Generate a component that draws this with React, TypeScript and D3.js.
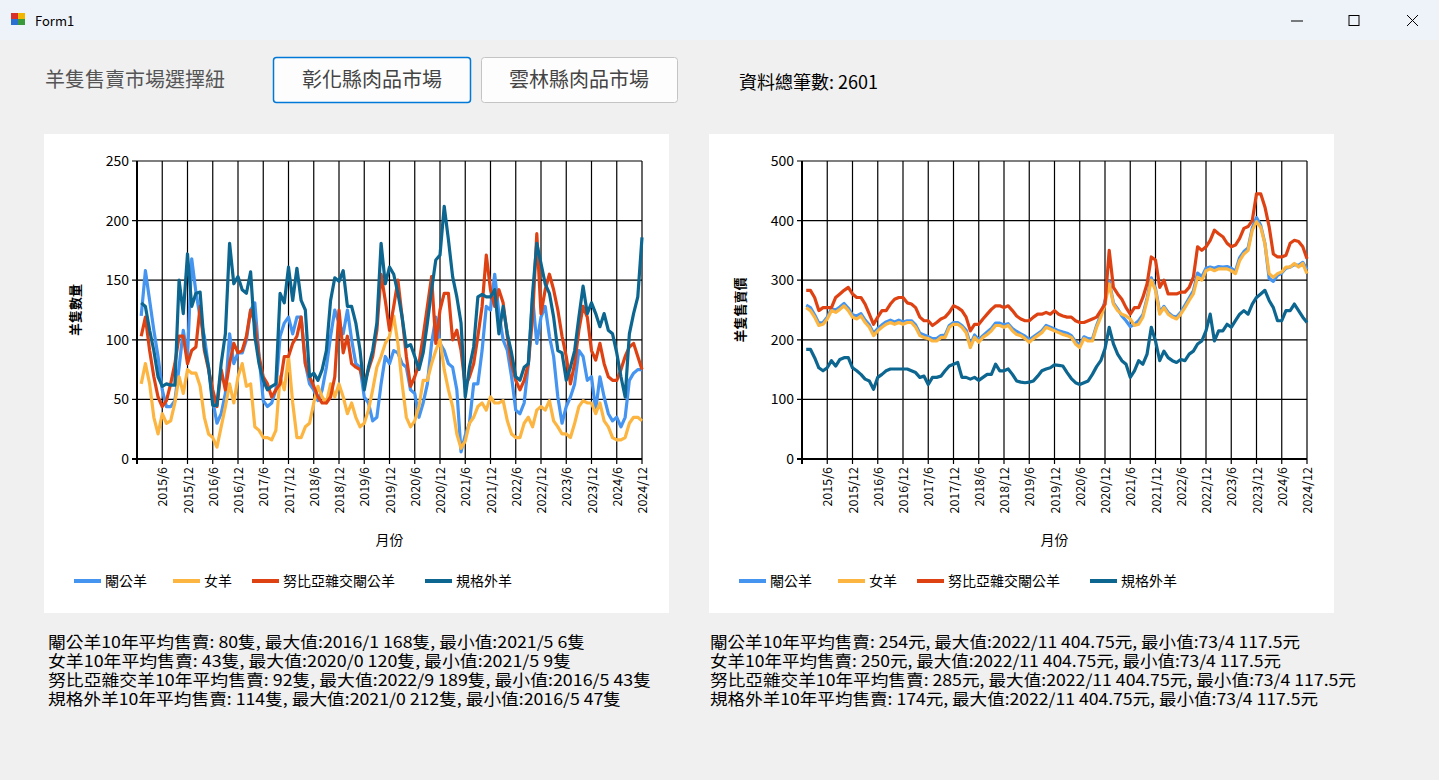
import { useMemo } from "react";
import * as d3 from "d3";

// 2015/1 .. 2024/12, one value per month
const tickLabels = [
  "2015/6", "2015/12", "2016/6", "2016/12", "2017/6", "2017/12", "2018/6", "2018/12", "2019/6", "2019/12",
  "2020/6", "2020/12", "2021/6", "2021/12", "2022/6", "2022/12", "2023/6", "2023/12", "2024/6", "2024/12",
];

const seriesNames = ["閹公羊", "女羊", "努比亞雜交閹公羊", "規格外羊"];
const seriesColors = ["#4494F0", "#FDB541", "#DF4212", "#0C6690"];

const countCastrated = [
  120, 158, 133, 108, 86, 58, 44, 44, 49, 77, 108, 86, 168, 140, 119, 103, 77, 49, 30, 38,
  55, 105, 80, 89, 89, 100, 125, 131, 86, 49, 44, 47, 58, 103, 114, 119, 105, 119, 119, 80,
  63, 58, 49, 58, 77, 103, 125, 114, 105, 125, 100, 80, 77, 52, 47, 32, 35, 63, 86, 80,
  91, 89, 80, 77, 58, 55, 35, 47, 63, 97, 119, 97, 91, 80, 77, 58, 6, 20, 30, 63,
  63, 91, 128, 125, 155, 122, 100, 91, 69, 41, 38, 47, 80, 136, 97, 119, 128, 103, 86, 52,
  30, 44, 52, 63, 91, 86, 66, 69, 41, 69, 52, 38, 32, 35, 27, 35, 66, 72, 75, 75,
];
const countEwe = [
  63, 80, 63, 35, 21, 38, 30, 32, 47, 69, 55, 75, 72, 72, 61, 35, 21, 18, 10, 27,
  44, 63, 47, 69, 80, 61, 63, 27, 24, 18, 18, 16, 24, 69, 58, 86, 47, 18, 18, 27,
  30, 47, 61, 52, 47, 63, 52, 63, 52, 38, 47, 35, 27, 30, 41, 58, 77, 86, 97, 103,
  120, 97, 63, 35, 27, 32, 44, 66, 66, 80, 91, 100, 75, 58, 44, 21, 9, 15, 30, 35,
  44, 47, 41, 52, 47, 47, 49, 32, 21, 18, 18, 30, 35, 27, 41, 44, 41, 49, 32, 27,
  21, 21, 18, 30, 44, 49, 47, 47, 38, 47, 32, 27, 18, 16, 16, 18, 30, 35, 35, 32,
];
const countNubian = [
  103, 119, 91, 69, 52, 44, 49, 63, 80, 103, 103, 80, 91, 94, 128, 91, 75, 58, 44, 75,
  58, 80, 97, 89, 91, 103, 125, 114, 86, 69, 63, 52, 58, 63, 86, 86, 97, 103, 119, 80,
  69, 61, 52, 47, 47, 52, 69, 125, 89, 103, 80, 77, 75, 63, 75, 86, 108, 155, 133, 108,
  128, 150, 119, 86, 61, 69, 80, 103, 128, 153, 97, 125, 139, 139, 100, 108, 91, 61, 69, 80,
  103, 128, 171, 142, 128, 142, 131, 103, 80, 66, 58, 66, 80, 119, 189, 122, 142, 155, 142, 125,
  103, 86, 63, 80, 108, 128, 119, 91, 83, 97, 80, 69, 66, 66, 75, 86, 94, 97, 86, 75,
];
const countOffSpec = [
  131, 128, 108, 91, 69, 61, 63, 62, 62, 150, 122, 172, 128, 139, 140, 94, 77, 45, 45, 80,
  105, 181, 147, 153, 142, 139, 157, 103, 80, 66, 58, 61, 63, 139, 131, 161, 133, 160, 133, 125,
  69, 72, 66, 75, 91, 133, 152, 149, 158, 128, 128, 114, 91, 58, 77, 91, 114, 181, 147, 161,
  155, 139, 119, 94, 96, 86, 75, 89, 114, 142, 167, 171, 212, 184, 153, 136, 114, 52, 77, 94,
  136, 138, 136, 136, 142, 105, 128, 105, 89, 69, 66, 77, 80, 139, 181, 164, 147, 139, 119, 91,
  89, 66, 77, 91, 119, 145, 122, 131, 122, 111, 122, 108, 105, 89, 69, 52, 105, 122, 136, 186,
];

const priceCastrated = [
  258, 254, 242, 228, 229, 238, 252, 250, 255, 261, 253, 242, 240, 244, 233, 225, 211, 219, 225, 230,
  233, 230, 233, 230, 232, 232, 225, 211, 208, 205, 202, 202, 207, 208, 224, 229, 229, 224, 216, 192,
  208, 200, 207, 213, 219, 228, 228, 225, 227, 219, 214, 210, 206, 200, 205, 210, 215, 224, 221, 218,
  215, 213, 211, 207, 197, 191, 205, 202, 201, 224, 242, 265, 298, 262, 252, 240, 232, 222, 226, 232,
  242, 270, 304, 286, 246, 256, 246, 240, 238, 246, 258, 270, 282, 312, 306, 320, 322, 320, 323, 322,
  323, 320, 315, 338, 348, 354, 388, 405, 392, 362, 303, 298, 308, 312, 320, 322, 326, 325, 330, 318,
];
const priceEwe = [
  254, 249, 238, 224, 226, 235, 249, 246, 251, 257, 249, 238, 235, 240, 229, 221, 207, 215, 221, 226,
  229, 226, 229, 226, 229, 229, 221, 207, 204, 202, 198, 198, 204, 204, 221, 226, 226, 221, 212, 187,
  204, 196, 204, 209, 215, 224, 224, 221, 224, 215, 209, 207, 202, 196, 202, 207, 212, 221, 218, 215,
  212, 209, 207, 204, 193, 187, 202, 198, 198, 221, 238, 260, 294, 260, 249, 243, 240, 235, 224, 226,
  238, 266, 300, 283, 243, 254, 243, 238, 235, 243, 254, 266, 277, 305, 300, 316, 319, 316, 319, 319,
  319, 316, 311, 333, 344, 350, 384, 398, 389, 361, 311, 305, 311, 314, 322, 322, 328, 322, 328, 311,
];
const priceNubian = [
  283, 283, 271, 249, 254, 254, 254, 271, 277, 283, 288, 277, 271, 271, 260, 243, 226, 238, 249, 249,
  260, 268, 271, 271, 262, 260, 254, 238, 232, 232, 224, 229, 235, 238, 246, 257, 254, 249, 238, 215,
  226, 226, 235, 243, 251, 257, 257, 254, 257, 249, 240, 235, 232, 232, 238, 243, 243, 246, 243, 249,
  243, 240, 238, 238, 232, 229, 229, 232, 235, 238, 249, 260, 350, 288, 277, 268, 254, 243, 254, 254,
  271, 294, 339, 334, 288, 300, 277, 277, 277, 280, 280, 288, 305, 356, 350, 356, 367, 384, 378, 373,
  362, 356, 359, 370, 387, 390, 400, 445, 445, 423, 390, 344, 339, 339, 342, 362, 367, 365, 356, 336,
];
const priceOffSpec = [
  184, 184, 170, 153, 148, 153, 165, 156, 167, 170, 170, 153, 148, 142, 134, 131, 117, 137, 142, 148,
  151, 151, 151, 151, 151, 148, 145, 137, 139, 125, 137, 137, 139, 148, 156, 159, 162, 137, 137, 134,
  137, 132, 137, 142, 142, 159, 148, 148, 151, 142, 131, 129, 128, 129, 131, 139, 148, 151, 153, 158,
  157, 156, 145, 135, 128, 125, 128, 131, 142, 155, 165, 185, 221, 193, 176, 165, 159, 137, 148, 165,
  159, 176, 221, 198, 165, 181, 170, 165, 162, 167, 165, 176, 181, 193, 198, 215, 243, 198, 215, 215,
  226, 221, 232, 243, 249, 243, 260, 271, 277, 283, 266, 254, 232, 232, 249, 249, 260, 249, 238, 229,
];

const countStats = [
  "閹公羊10年平均售賣: 80隻, 最大值:2016/1 168隻, 最小值:2021/5 6隻",
  "女羊10年平均售賣: 43隻, 最大值:2020/0 120隻, 最小值:2021/5  9隻",
  "努比亞雜交羊10年平均售賣: 92隻, 最大值:2022/9 189隻, 最小值:2016/5 43隻",
  "規格外羊10年平均售賣: 114隻, 最大值:2021/0 212隻, 最小值:2016/5 47隻",
];
const countStatsWidth = [537, 523, 603, 573];
const priceStats = [
  "閹公羊10年平均售賣: 254元, 最大值:2022/11 404.75元, 最小值:73/4 117.5元",
  "女羊10年平均售賣: 250元, 最大值:2022/11 404.75元, 最小值:73/4 117.5元",
  "努比亞雜交羊10年平均售賣: 285元, 最大值:2022/11 404.75元, 最小值:73/4 117.5元",
  "規格外羊10年平均售賣: 174元, 最大值:2022/11 404.75元, 最小值:73/4 117.5元",
];
const priceStatsWidth = [590, 571, 646, 608];

const SANS = "'Noto Sans CJK TC', 'Microsoft JhengHei', sans-serif";
const SERIF = "'Noto Sans CJK TC', serif";

function Chart({ left, series, yMax, yTitle }: { left: number; series: number[][]; yMax: number; yTitle: string }) {
  const x0 = left + 93;
  const x1 = left + 598;
  const yTop = 161;
  const yBot = 459;
  const x = useMemo(() => d3.scaleLinear().domain([0, 120]).range([x0, x1]), [x0, x1]);
  const y = useMemo(() => d3.scaleLinear().domain([0, yMax]).range([yBot, yTop]), [yMax]);
  const yTicks = d3.range(0, yMax + 1, yMax / 5);
  const xTicks = tickLabels.map((_, i) => (i + 1) * 6);
  const line = d3.line<number>().x((_, i) => x(i + 1)).y((d) => y(d));
  const legendX = [30, 129, 208, 381];

  return (
    <g>
      <rect x={left} y={134} width={625} height={479} fill="#fff" />
      {yTicks.map((t) => (
        <g key={t}>
          <line x1={x0 - 5} x2={x1} y1={y(t)} y2={y(t)} stroke="#000" strokeWidth={1.2} />
          <text x={x0 - 8} y={y(t)} dy="0.35em" textAnchor="end" fontSize={14} fontFamily={SANS} fill="#000">
            {t}
          </text>
        </g>
      ))}
      {xTicks.map((t, i) => (
        <g key={t}>
          <line x1={x(t)} x2={x(t)} y1={yTop} y2={yBot + 5} stroke="#000" strokeWidth={1.2} />
          <text
            transform={`translate(${x(t) + 5},${yBot + 8}) rotate(-90)`}
            textAnchor="end"
            fontSize={12.5}
            fontFamily={SANS}
            fill="#000"
          >
            {tickLabels[i]}
          </text>
        </g>
      ))}
      <line x1={x0} x2={x0} y1={yTop} y2={yBot + 5} stroke="#000" strokeWidth={2} />
      <line x1={x0 - 5} x2={x1} y1={yBot} y2={yBot} stroke="#000" strokeWidth={2} />
      {series.map((s, k) => (
        <path key={k} d={line(s) ?? ""} fill="none" stroke={seriesColors[k]} strokeWidth={3.2} strokeLinejoin="round" />
      ))}
      <text
        transform={`translate(${left + 36},${310}) rotate(-90)`}
        textAnchor="middle"
        fontSize={13}
        fontWeight={600}
        fontFamily={SANS}
      >
        {yTitle}
      </text>
      <text x={(x0 + x1) / 2} y={545} textAnchor="middle" fontSize={14} fontFamily={SANS}>
        月份
      </text>
      {seriesNames.map((n, k) => (
        <g key={n} transform={`translate(${left + legendX[k]},581)`}>
          <line x1={0} x2={27} y1={0} y2={0} stroke={seriesColors[k]} strokeWidth={4} />
          <text x={31} y={0} dy="0.35em" fontSize={14} fontFamily={SANS}>
            {n}
          </text>
        </g>
      ))}
    </g>
  );
}

export default function App() {
  return (
    <svg
      width={1439}
      height={780}
      style={{ position: "absolute", left: 0, top: 0, display: "block" }}
      fontFamily={SANS}
    >
      <rect width={1439} height={780} fill="#f0f0f0" />
      {/* window title bar */}
      <rect width={1439} height={40} fill="#eef3f9" />
      <rect x={11} y={13} width={7} height={6} fill="#d9302b" />
      <rect x={18} y={13} width={7} height={6} fill="#f2b600" />
      <rect x={11} y={19} width={7} height={6} fill="#2a70d0" />
      <rect x={18} y={19} width={7} height={6} fill="#3a9a3a" />
      <text x={35} y={21} dy="0.35em" fontSize={13} fontFamily={SANS} fill="#000">
        Form1
      </text>
      <line x1={1291} x2={1303} y1={21} y2={21} stroke="#000" strokeWidth={1} />
      <rect x={1349} y={15.5} width={10} height={10} fill="none" stroke="#000" strokeWidth={1} />
      <line x1={1407} x2={1418} y1={15} y2={26} stroke="#000" strokeWidth={1} />
      <line x1={1418} x2={1407} y1={15} y2={26} stroke="#000" strokeWidth={1} />

      {/* controls */}
      <text x={45} y={80} dy="0.35em" fontSize={20} fill="#555" fontFamily={SANS}>
        羊隻售賣市場選擇紐
      </text>
      <rect x={273.5} y={57.5} width={197} height={45} rx={3} fill="#fdfdfd" stroke="#0078d7" strokeWidth={1.5} />
      <text x={372} y={80} dy="0.35em" textAnchor="middle" fontSize={20} fill="#444" fontFamily={SANS}>
        彰化縣肉品市場
      </text>
      <rect x={481.5} y={57.5} width={196} height={45} rx={3} fill="#fdfdfd" stroke="#c4c4c4" strokeWidth={1} />
      <text x={579} y={80} dy="0.35em" textAnchor="middle" fontSize={20} fill="#444" fontFamily={SANS}>
        雲林縣肉品市場
      </text>
      <text x={739} y={83} dy="0.35em" fontSize={18} fill="#000" fontFamily={SERIF}>
        資料總筆數: 2601
      </text>

      <Chart left={44} series={[countCastrated, countEwe, countNubian, countOffSpec]} yMax={250} yTitle="羊隻數量" />
      <Chart left={709} series={[priceCastrated, priceEwe, priceNubian, priceOffSpec]} yMax={500} yTitle="羊隻售賣價" />

      {countStats.map((s, i) => (
        <text
          key={s}
          x={48}
          y={642 + i * 19}
          dy="0.35em"
          fontSize={16}
          fontFamily={SERIF}
          textLength={countStatsWidth[i]}
          lengthAdjust="spacingAndGlyphs"
        >
          {s}
        </text>
      ))}
      {priceStats.map((s, i) => (
        <text
          key={s}
          x={710}
          y={642 + i * 19}
          dy="0.35em"
          fontSize={16}
          fontFamily={SERIF}
          textLength={priceStatsWidth[i]}
          lengthAdjust="spacingAndGlyphs"
        >
          {s}
        </text>
      ))}
</svg>
  );
}
